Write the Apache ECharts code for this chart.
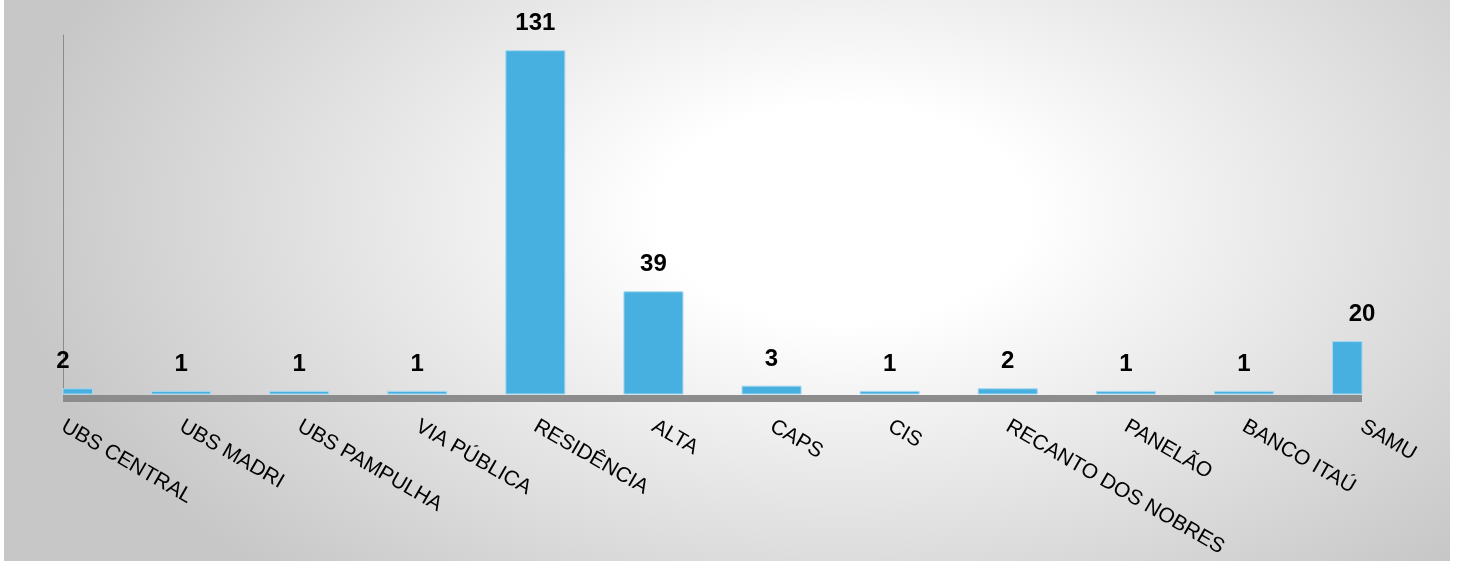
<!DOCTYPE html>
<html>
<head>
<meta charset="utf-8">
<script src="https://cdn.jsdelivr.net/npm/echarts@6/dist/echarts.min.js"></script>
<style>
  html, body { margin: 0; padding: 0; background: #ffffff; }
  #bg { position: absolute; left: 4px; top: 0; width: 1446px; height: 561px;
        background: radial-gradient(ellipse 58% 88% at 58% 38%, #ffffff 22%, #c7c7c7 100%); }
  #chart { position: absolute; left: 0; top: 0; width: 1469px; height: 561px; }
</style>
</head>
<body>
<div id="bg"></div>
<div id="chart"></div>
<script>
const categories = ['UBS CENTRAL', 'UBS MADRI', 'UBS PAMPULHA', 'VIA PÚBLICA', 'RESIDÊNCIA', 'ALTA', 'CAPS', 'CIS', 'RECANTO DOS NOBRES', 'PANELÃO', 'BANCO ITAÚ', 'SAMU'];
const values = [2, 1, 1, 1, 131, 39, 3, 1, 2, 1, 1, 20];

const chart = echarts.init(document.getElementById('chart'), null, { renderer: 'canvas' });
chart.setOption({
  backgroundColor: 'transparent',
  animation: false,
  grid: { left: 63, right: 107, top: 35, bottom: 167, containLabel: false, outerBoundsMode: 'none' },
  xAxis: {
    type: 'category',
    data: categories,
    boundaryGap: false,
    z: 5,
    offset: 4,
    axisLine: { show: true, onZero: false, lineStyle: { color: '#8c8c8c', width: 7, cap: 'butt' } },
    axisTick: { show: false },
    axisLabel: {
      interval: 0,
      rotate: -30,
      margin: 27,
      color: '#000000',
      fontSize: 21,
      fontFamily: 'Liberation Sans, Arial, sans-serif',
      hideOverlap: false
    },
    splitLine: { show: false }
  },
  yAxis: {
    type: 'value',
    min: 0,
    max: 137,
    axisLine: { show: true, lineStyle: { color: '#8a8a8a', width: 1 } },
    axisTick: { show: false },
    axisLabel: { show: false },
    splitLine: { show: false }
  },
  series: [
    {
      type: 'custom',
      data: values.map((v, i) => [i, v]),
      encode: { x: 0, y: 1 },
      z: 2,
      renderItem: function (params, api) {
        const idx = api.value(0);
        const v = api.value(1);
        const top = api.coord([idx, v]);
        const base = api.coord([idx, 0]);
        const w = api.size([1, 0])[0] * 0.5;
        const cs = params.coordSys;
        const shape = echarts.graphic.clipRectByRect(
          { x: top[0] - w / 2, y: top[1], width: w, height: base[1] - top[1] },
          { x: cs.x, y: cs.y, width: cs.width, height: cs.height }
        );
        if (!shape) return null;
        return {
          type: 'rect',
          shape: shape,
          style: { fill: '#47b0e0', stroke: '#a6d8f0', lineWidth: 1 }
        };
      }
    },
    {
      type: 'bar',
      data: values,
      barWidth: 59,
      z: 3,
      itemStyle: { color: 'rgba(0,0,0,0)' },
      label: {
        show: true,
        position: 'top',
        distance: 15,
        color: '#000000',
        fontSize: 24,
        fontWeight: 'bold',
        fontFamily: 'Liberation Sans, Arial, sans-serif'
      }
    }
  ]
});
</script>
</body>
</html>
